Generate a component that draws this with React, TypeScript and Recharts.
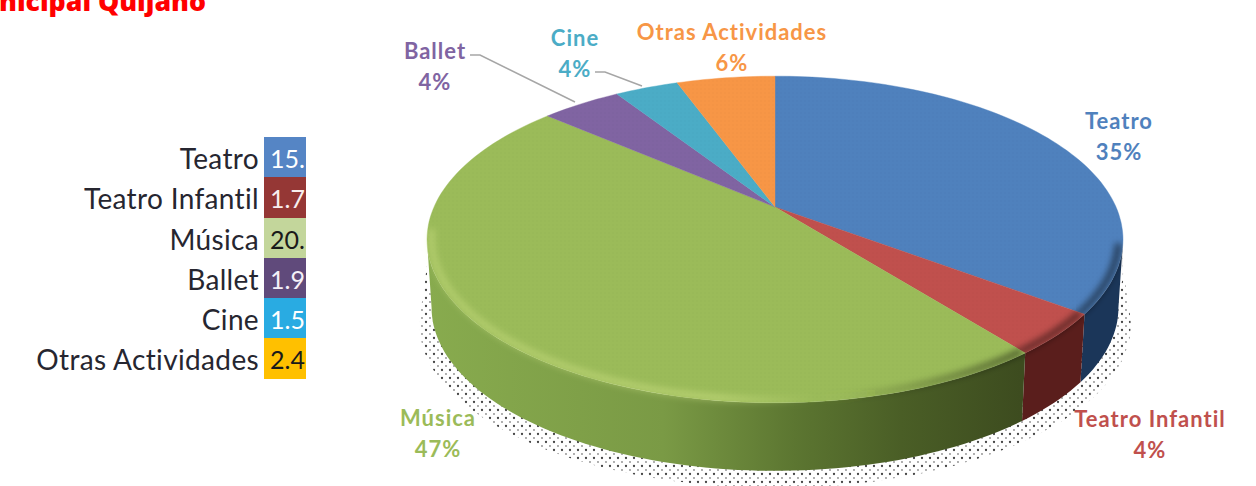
import React from "react";
import { PieChart, Pie } from "recharts";

const categories = ["Teatro", "Teatro Infantil", "Música", "Ballet", "Cine", "Otras Actividades"];
const values = [15.3, 1.78, 20.4, 1.95, 1.55, 2.4];
const tableValues = ["15.", "1.7", "20.", "1.9", "1.5", "2.4"];
const percentLabels = ["35%", "4%", "47%", "4%", "4%", "6%"];

const sliceColors = ["#4f81bd", "#c0504d", "#9bbb59", "#8064a2", "#4bacc6", "#f79646"];
const wallFills = ["#1b3659", "#5a1e1c", "url(#musicWall)", "#5c4776", "#317f94", "#b56a2c"];
const tableColors = ["#5585c5", "#953735", "#c3d69b", "#604a7b", "#29abe2", "#ffc000"];
const tableTextColors = ["#ffffff", "#f8eeee", "#1a1a1a", "#f4f0f8", "#ffffff", "#1a1a1a"];
const labelCenters: [number, number][] = [
  [1119, 120],
  [1150, 418],
  [438, 417],
  [435, 50],
  [575, 37],
  [732, 31],
];

const data = categories.map((name, i) => ({ name, value: values[i], fill: sliceColors[i] }));

const CHART_W = 1256;
const CHART_H = 486;
const PERSPECTIVE = 0.199;
const SQUASH = 0.46;
const DEPTH = 68;
const WALL_FROM = 101.6;
const WALL_TO = 258.4;
const FONT = "Lato, Carlito, sans-serif";

type Pt = [number, number];

function projector(cx: number, cy: number, r: number) {
  return (theta: number, scale = 1): Pt => {
    const t = (theta * Math.PI) / 180;
    const u = Math.sin(t) * scale;
    const v = Math.cos(t) * scale;
    const w = 1 + PERSPECTIVE * v;
    return [cx + (r * u) / w, cy - (r * SQUASH * v) / w];
  };
}

function sample(from: number, to: number, fn: (th: number) => Pt): Pt[] {
  const n = Math.max(2, Math.ceil(Math.abs(to - from) / 1.5));
  const out: Pt[] = [];
  for (let i = 0; i <= n; i++) out.push(fn(from + ((to - from) * i) / n));
  return out;
}

const toPath = (pts: Pt[], close = true) =>
  pts.map((p, i) => `${i ? "L" : "M"}${p[0].toFixed(1)} ${p[1].toFixed(1)}`).join(" ") + (close ? " Z" : "");

function ShadowShape(props: any) {
  const { cx, cy, outerRadius, startAngle, endAngle } = props;
  const a = Math.max(90 - startAngle, 96);
  const b = Math.min(90 - endAngle, 264);
  if (b <= a) return <g />;
  const P = projector(cx, cy, outerRadius);
  const outer = sample(a, b, (t) => {
    const p = P(t);
    return [cx + (p[0] - cx) * 1.022, p[1] + DEPTH + 17];
  });
  const inner = sample(b, a, (t) => {
    const p = P(t);
    return [p[0], p[1] + 30];
  });
  return <path d={toPath([...outer, ...inner])} fill="url(#halftone)" stroke="none" />;
}

function WallShape(props: any) {
  const { cx, cy, outerRadius, startAngle, endAngle, index } = props;
  const a = Math.max(90 - startAngle, WALL_FROM);
  const b = Math.min(90 - endAngle, WALL_TO);
  if (b <= a) return <g />;
  const P = projector(cx, cy, outerRadius);
  const top = sample(a, b, (t) => P(t));
  const bottom = sample(b, a, (t) => {
    const p = P(t);
    return [cx + (p[0] - cx) * 0.987, p[1] + DEPTH];
  });
  return <path d={toPath([...top, ...bottom])} fill={wallFills[index]} stroke="none" />;
}

function TopShape(props: any) {
  const { cx, cy, outerRadius, startAngle, endAngle, fill } = props;
  const a = 90 - startAngle;
  const b = 90 - endAngle;
  const P = projector(cx, cy, outerRadius);
  const arc = sample(a, b, (t) => P(t));
  const ra = Math.max(a, 103);
  const rb = Math.min(b, 262);
  return (
    <g>
      <path d={toPath([[cx, cy], ...arc])} fill={fill} stroke={fill} strokeWidth={0.4} />
      <path d={toPath([[cx, cy], ...arc])} fill="url(#weave)" stroke="none" />
      {rb > ra && (
        <path
          d={toPath(sample(ra, rb, (t) => P(t, 0.988)), false)}
          fill="none"
          stroke="url(#rim)"
          strokeWidth={7}
          filter="url(#soft)"
        />
      )}
    </g>
  );
}

function renderLabel(props: any) {
  const i = props.index as number;
  const [x, y] = labelCenters[i];
  const common = {
    fontFamily: FONT,
    fontWeight: 700,
    fontSize: 22,
    fill: sliceColors[i],
    textAnchor: "middle" as const,
    dominantBaseline: "central" as const,
    letterSpacing: 1,
  };
  return (
    <g key={categories[i]}>
      <text x={x} y={y} {...common}>{categories[i]}</text>
      <text x={x} y={y + 31} {...common}>{percentLabels[i]}</text>
      {i === 3 && <polyline points="470,55 480,55 575,102" fill="none" stroke="#a6a6a6" strokeWidth={1.5} />}
      {i === 4 && <polyline points="595,72 605,72 642,86" fill="none" stroke="#a6a6a6" strokeWidth={1.5} />}
    </g>
  );
}

const pieCommon = {
  data,
  dataKey: "value",
  nameKey: "name",
  cx: 775,
  cy: 207,
  outerRadius: 341,
  startAngle: 90,
  endAngle: -270,
  paddingAngle: 0,
  stroke: "none",
  isAnimationActive: false,
  legendType: "none" as const,
};

export default function App() {
  return (
    <div style={{ position: "absolute", left: 0, top: 0, width: CHART_W, height: CHART_H, overflow: "hidden", background: "#fff" }}>
      <div
        style={{
          position: "absolute",
          left: -1,
          top: -16,
          fontFamily: "'Open Sans', sans-serif",
          fontWeight: 800,
          fontSize: 26.7,
          lineHeight: "34px",
          color: "#ff0000",
          whiteSpace: "nowrap",
        }}
      >
        nicipal Quijano
      </div>

      <PieChart width={CHART_W} height={CHART_H} margin={{ top: 0, right: 0, bottom: 0, left: 0 }}>
        <defs>
          <pattern id="halftone" width="8" height="8" patternUnits="userSpaceOnUse">
            <circle cx="2" cy="2" r="1.15" fill="#454545" />
            <circle cx="6" cy="6" r="0.9" fill="#8a8a8a" />
          </pattern>
          <pattern id="weave" width="4" height="4" patternUnits="userSpaceOnUse">
            <circle cx="1" cy="1" r="0.7" fill="#000" fillOpacity="0.025" />
          </pattern>
          <linearGradient id="musicWall" gradientUnits="userSpaceOnUse" x1="426" y1="0" x2="1020" y2="0">
            <stop offset="0" stopColor="#88ab4e" />
            <stop offset="0.4" stopColor="#7a9a45" />
            <stop offset="0.62" stopColor="#5c7631" />
            <stop offset="0.8" stopColor="#4a5e26" />
            <stop offset="1" stopColor="#3d4c1f" />
          </linearGradient>
          <linearGradient id="rim" gradientUnits="userSpaceOnUse" x1="426" y1="0" x2="1122" y2="0">
            <stop offset="0" stopColor="#e6f59a" stopOpacity="0.3" />
            <stop offset="0.42" stopColor="#e6f59a" stopOpacity="0.35" />
            <stop offset="0.56" stopColor="#e6f59a" stopOpacity="0" />
            <stop offset="0.66" stopColor="#000" stopOpacity="0.12" />
            <stop offset="0.85" stopColor="#000" stopOpacity="0.45" />
            <stop offset="1" stopColor="#000" stopOpacity="0.5" />
          </linearGradient>
          <filter id="soft" x="-10%" y="-30%" width="120%" height="160%">
            <feGaussianBlur stdDeviation="3" />
          </filter>
        </defs>
        <Pie {...pieCommon} shape={ShadowShape} />
        <Pie {...pieCommon} shape={WallShape} />
        <Pie {...pieCommon} shape={TopShape} label={renderLabel} labelLine={false} />
      </PieChart>

      <div style={{ position: "absolute", left: 0, top: 137, width: 306 }}>
        {categories.map((c, i) => (
          <div key={c} style={{ display: "flex", height: 40.3, justifyContent: "flex-end" }}>
            <div
              style={{
                fontFamily: FONT,
                fontSize: 28,
                letterSpacing: 0.35,
                lineHeight: "42px",
                color: "#262630",
                paddingRight: 5,
                whiteSpace: "nowrap",
              }}
            >
              {c}
            </div>
            <div
              style={{
                width: 42,
                height: "100%",
                overflow: "hidden",
                background: tableColors[i],
                color: tableTextColors[i],
                fontFamily: FONT,
                fontSize: 25,
                lineHeight: "42px",
                paddingLeft: 6,
                boxSizing: "border-box",
                whiteSpace: "nowrap",
              }}
            >
              {tableValues[i]}
            </div>
          </div>
        ))}
      </div>
    </div>
  );
}
